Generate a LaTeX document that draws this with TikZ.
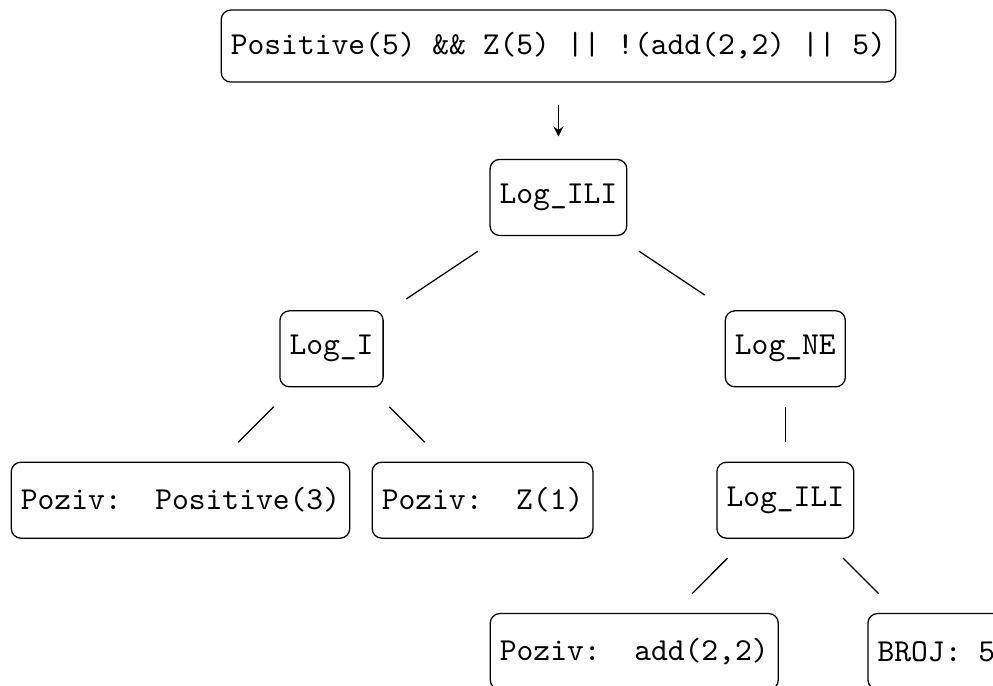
\documentclass[tikz,border=0pt]{standalone}
\usepackage{amsmath}
\usetikzlibrary{positioning, arrows}
\tikzset{
    >=stealth, % arrow head of the first step
    node distance=47.3pt, % distance between two levels of the tree
    term/.style={draw, rounded corners=3pt, font=\ttfamily, inner xsep=3pt, minimum height=23.75pt}, % every box of the tree
    link/.style={shorten <=8.5pt, shorten >=8.5pt}, % lines from parent to child
}

\begin{document}
\begin{tikzpicture}
    \path[use as bounding box, clip] (-174.5pt,14.4pt) rectangle (135.8pt,-199.7pt);
    \node[term, minimum height=22.5pt] (expr) {Positive(5) \&\& Z(5) || !(add(2,2) || 5)};
    \node[term, below of=expr] (ili) {Log\_ILI};
    \node[term, below of=ili, xshift=-70.9pt] (i) {Log\_I};
    \node[term, below of=ili, xshift=70.9pt] (ne) {Log\_NE};
    \node[term, below of=i, xshift=-47.2pt] (pozpos) {Poziv:\ \ Positive(3)};
    \node[term, below of=i, xshift=47.2pt] (pozz) {Poziv:\ \ Z(1)};
    \node[term, below of=ne] (ilib) {Log\_ILI};
    \node[term, below of=ilib, xshift=-47.2pt] (pozadd) {Poziv:\ \ add(2,2)};
    \node[term, below of=ilib, xshift=47.2pt] (broj) {BROJ:\ 5};
    \draw
    (expr) edge[->, shorten <=7pt, shorten >=7pt] (ili)
    (ili) edge[link] (i)
    (ili) edge[link] (ne)
    (i) edge[link] (pozpos)
    (i) edge[link] (pozz)
    (ne) edge[shorten <=6.2pt, shorten >=6.2pt] (ilib)
    (ilib) edge[link] (pozadd)
    (ilib) edge[link] (broj);
\end{tikzpicture}
\end{document}
